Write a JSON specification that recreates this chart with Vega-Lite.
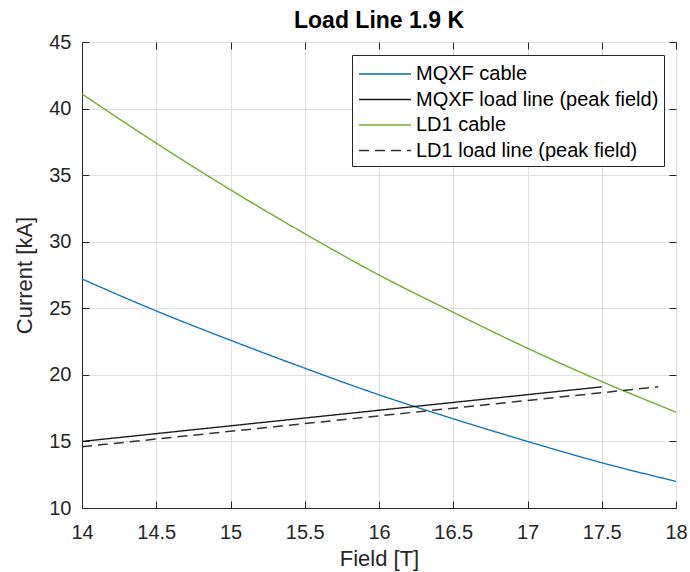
{
  "$schema": "https://vega.github.io/schema/vega-lite/v6.json",
  "width": 594,
  "height": 466,
  "autosize": "none",
  "padding": {"left": 82, "top": 42, "right": 14, "bottom": 64},
  "background": "white",
  "title": {"text": "Load Line 1.9 K", "fontSize": 23, "font": "Liberation Sans", "fontWeight": "bold", "color": "#000000", "offset": -1, "anchor": "middle"},
  "config": {
    "view": {"stroke": "#262626", "strokeWidth": 1},
    "font": "Liberation Sans",
    "axis": {
      "labelFont": "Liberation Sans", "labelFontSize": 20, "labelColor": "#262626",
      "titleFont": "Liberation Sans", "titleFontSize": 22, "titleFontWeight": "normal", "titleColor": "#262626",
      "domainColor": "#262626", "tickColor": "#262626", "gridColor": "#dfdfdf", "gridOpacity": 1
    }
  },
  "datasets": {
    "lines": [
      {"series": "MQXF cable", "field": 14.0, "current": 27.2},
      {"series": "MQXF cable", "field": 14.5, "current": 24.8},
      {"series": "MQXF cable", "field": 15.0, "current": 22.6},
      {"series": "MQXF cable", "field": 15.5, "current": 20.5},
      {"series": "MQXF cable", "field": 16.0, "current": 18.5},
      {"series": "MQXF cable", "field": 16.5, "current": 16.7},
      {"series": "MQXF cable", "field": 17.0, "current": 15.0},
      {"series": "MQXF cable", "field": 17.5, "current": 13.4},
      {"series": "MQXF cable", "field": 18.0, "current": 12.0},
      {"series": "MQXF load line (peak field)", "field": 14.0, "current": 15.0},
      {"series": "MQXF load line (peak field)", "field": 17.5, "current": 19.1},
      {"series": "LD1 cable", "field": 14.0, "current": 41.1},
      {"series": "LD1 cable", "field": 14.5, "current": 37.4},
      {"series": "LD1 cable", "field": 15.0, "current": 33.9},
      {"series": "LD1 cable", "field": 15.5, "current": 30.6},
      {"series": "LD1 cable", "field": 16.0, "current": 27.5},
      {"series": "LD1 cable", "field": 16.5, "current": 24.7},
      {"series": "LD1 cable", "field": 17.0, "current": 22.0},
      {"series": "LD1 cable", "field": 17.5, "current": 19.5},
      {"series": "LD1 cable", "field": 18.0, "current": 17.2},
      {"series": "LD1 load line (peak field)", "field": 14.0, "current": 14.6},
      {"series": "LD1 load line (peak field)", "field": 17.88, "current": 19.1}
    ]
  },
  "data": {"name": "lines"},
  "layer": [
    {
      "mark": {"type": "line", "interpolate": "monotone", "clip": true},
      "encoding": {
        "x": {"field": "field", "type": "quantitative", "title": "Field [T]",
              "scale": {"domain": [14, 18], "nice": false, "zero": false},
              "axis": {"values": [14, 14.5, 15, 15.5, 16, 16.5, 17, 17.5, 18], "format": "~g", "tickSize": -7, "labelPadding": 21, "titlePadding": 6, "grid": true, "labelFlush": false}},
        "y": {"field": "current", "type": "quantitative", "title": "Current [kA]",
              "scale": {"domain": [10, 45], "nice": false, "zero": false},
              "axis": {"values": [10, 15, 20, 25, 30, 35, 40, 45], "format": "~g", "tickSize": -7, "labelPadding": 18, "titlePadding": 12, "grid": true, "labelFlush": false}},
        "color": {"field": "series", "type": "nominal", "title": null,
                  "scale": {"domain": ["MQXF cable", "MQXF load line (peak field)", "LD1 cable", "LD1 load line (peak field)"],
                            "range": ["#0072BD", "#1a1a1a", "#77AC30", "#333333"]},
                  "legend": {"orient": "none", "legendX": 270, "legendY": 13, "symbolType": "M-2,0H2", "symbolSize": 676, "symbolStrokeWidth": 1.2, "symbolFillColor": "transparent",
                             "symbolOffset": 14, "labelOffset": 17, "labelLimit": 400,
                             "labelFont": "Liberation Sans", "labelFontSize": 20, "labelColor": "#000000", "rowPadding": 1.5,
                             "strokeColor": "#262626", "fillColor": "white", "padding": 5}},
        "strokeDash": {"field": "series", "type": "nominal", "title": null,
                       "scale": {"domain": ["MQXF cable", "MQXF load line (peak field)", "LD1 cable", "LD1 load line (peak field)"],
                                 "range": [[1, 0], [1, 0], [1, 0], [10, 6]]}},
        "strokeWidth": {"field": "series", "type": "nominal", "legend": null,
                        "scale": {"domain": ["MQXF cable", "MQXF load line (peak field)", "LD1 cable", "LD1 load line (peak field)"],
                                  "range": [1.3, 1.5, 1.3, 1.5]}}
      }
    },
    {
      "mark": {"type": "line", "opacity": 0},
      "encoding": {
        "x": {"field": "field", "type": "quantitative",
              "scale": {"domain": [14, 18], "nice": false, "zero": false},
              "axis": {"orient": "top", "values": [14, 14.5, 15, 15.5, 16, 16.5, 17, 17.5, 18], "labels": false, "title": null, "tickSize": -7, "grid": false, "domain": false}},
        "y": {"field": "current", "type": "quantitative",
              "scale": {"domain": [10, 45], "nice": false, "zero": false},
              "axis": {"orient": "right", "values": [10, 15, 20, 25, 30, 35, 40, 45], "labels": false, "title": null, "tickSize": -7, "grid": false, "domain": false}},
        "detail": {"field": "series", "type": "nominal"}
      }
    }
  ],
  "resolve": {"axis": {"x": "independent", "y": "independent"}}
}
